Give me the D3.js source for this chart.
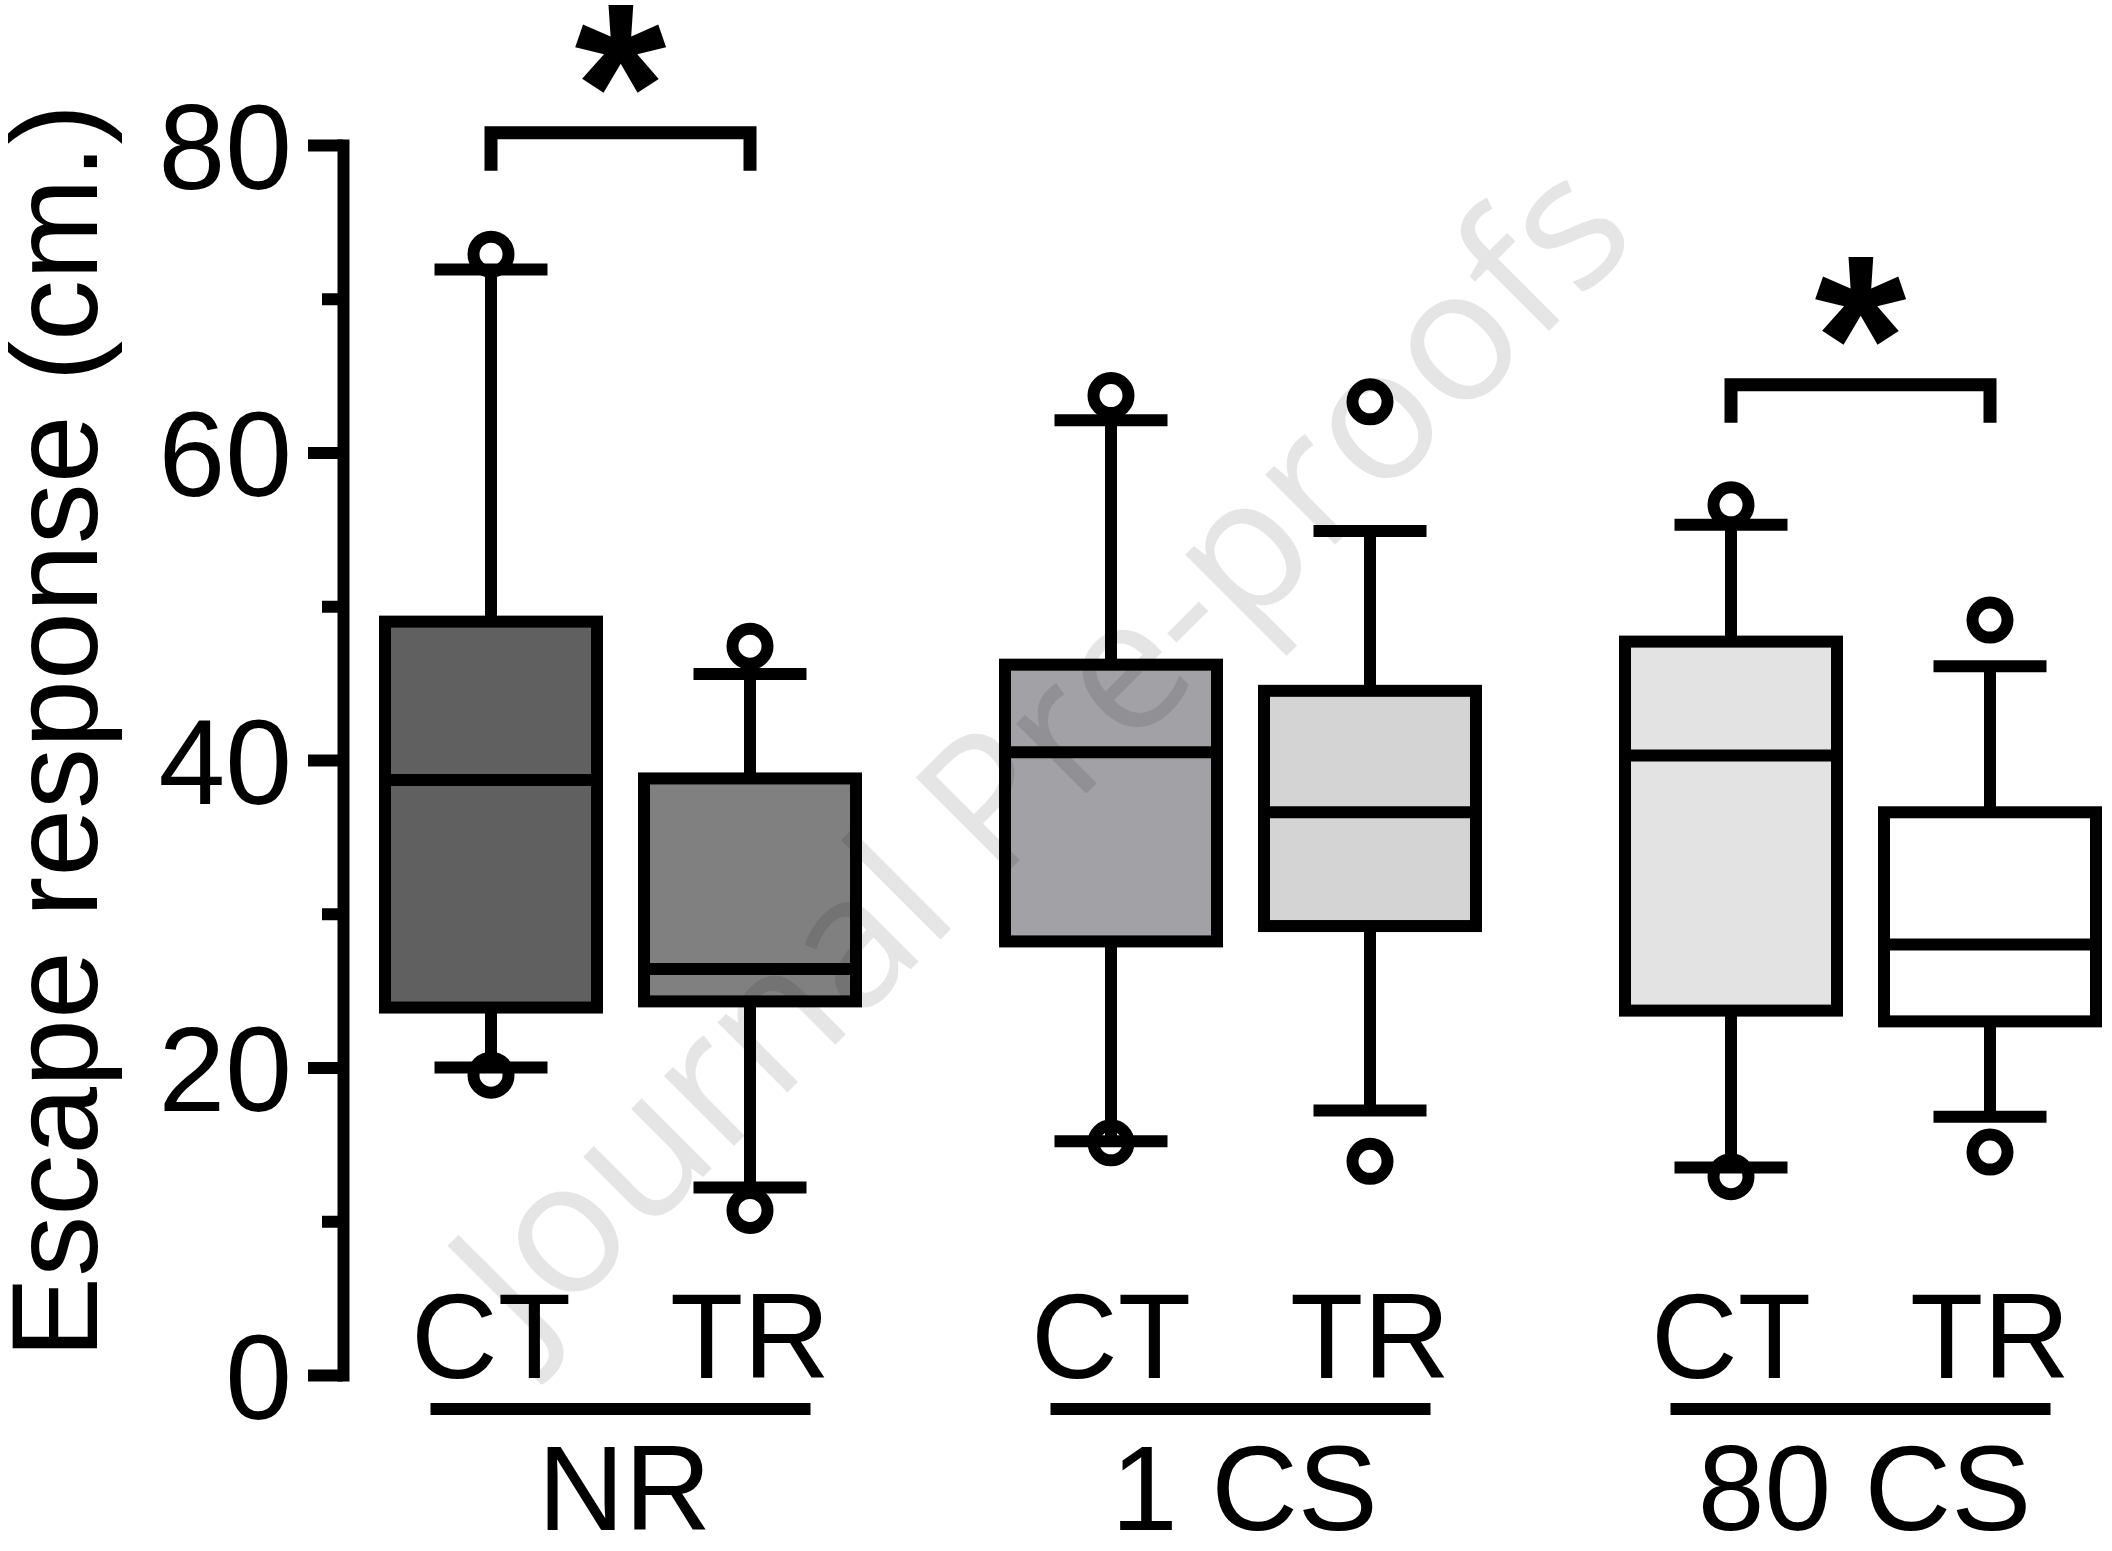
<!DOCTYPE html>
<meta charset="utf-8">
<head>
    <title>Escape response box plot</title>
    <script src="https://d3js.org/d3.v7.min.js"></script>
</head>
<style>
    body {
        margin: 0;
        background-color: #ffffff;
    }
    svg text {
        font-family: "Liberation Sans", Arial, sans-serif;
    }
    .axis path,
    .axis line {
        fill: none;
        stroke: #000;
        stroke-width: 12px;
    }
    .axis path {
        stroke-linecap: square;
    }
    .axis text {
        font-size: 120px;
        fill: #000;
    }
</style>
<body>
<svg width="2112" height="1551"></svg>
<script>
    // groups and conditions, one box per group x condition (CT, TR)
    var groups = ["NR", "1 CS", "80 CS"];
    var conditions = ["CT", "TR"];

    var q1 =          [23.9, 24.3, 28.2, 29.2, 23.7, 23.0];
    var median =      [38.7, 26.4, 40.5, 36.6, 40.3, 28.0];
    var q3 =          [49.0, 38.8, 46.2, 44.5, 47.7, 36.6];
    var whiskerLow =  [20.0, 12.2, 15.2, 17.2, 13.5, 16.8];
    var whiskerHigh = [71.9, 45.6, 62.1, 54.9, 55.3, 46.1];
    var outliers =    [[72.9, 19.5], [47.4, 10.7], [63.7, 15.1], [63.3, 13.9], [56.6, 12.9], [49.1, 14.5]];
    var fills = ["#606060", "#808080", "#a2a1a6", "#d4d4d4", "#e3e3e3", "#ffffff"];

    var majorTicks = [0, 20, 40, 60, 80];
    var minorTicks = [10, 30, 50, 70];

    // significance brackets: group and bracket level (data units)
    var sigGroups = ["NR", "80 CS"];
    var sigLevels = [80.8, 64.4];

    var yTitle = "Escape response (cm.)";

    var svg = d3.select("svg");

    var y = d3.scaleLinear().domain([0, 80]).range([1375, 145]);
    var xGroup = d3.scalePoint().domain(groups).range([620.5, 1860.5]);
    var xCond = d3.scalePoint().domain(conditions).range([-129.5, 129.5]);

    var boxW = 212, capW = 113;

    var data = [];
    groups.forEach(function(g, gi) {
        conditions.forEach(function(c, ci) {
            var i = gi * 2 + ci;
            data.push({
                group: g, cond: c,
                cx: xGroup(g) + xCond(c),
                q1: q1[i], med: median[i], q3: q3[i],
                lo: whiskerLow[i], hi: whiskerHigh[i],
                out: outliers[i], fill: fills[i]
            });
        });
    });

    // y axis
    var axisX = 343;
    svg.append("g")
        .attr("class", "axis")
        .attr("transform", "translate(" + axisX + ",0)")
        .call(d3.axisLeft(y).tickValues(minorTicks).tickSize(21).tickSizeOuter(0).tickFormat(""))
        .call(function(g) { g.select(".domain").remove(); });

    var yAxis = svg.append("g")
        .attr("class", "axis")
        .attr("transform", "translate(" + axisX + ",0)")
        .call(d3.axisLeft(y).tickValues(majorTicks).tickSize(35).tickSizeOuter(0).tickPadding(16));
    yAxis.attr("font-family", null).attr("font-size", null);
    yAxis.selectAll("text").attr("dy", "0.36em");

    svg.append("text")
        .attr("transform", "translate(97," + 731 + ") rotate(-90)")
        .attr("text-anchor", "middle")
        .style("font-size", "122px")
        .text(yTitle);

    var box = svg.append("g").selectAll("g")
        .data(data)
        .enter().append("g");

    // whiskers
    box.append("line")
        .attr("x1", function(d) { return d.cx; })
        .attr("x2", function(d) { return d.cx; })
        .attr("y1", function(d) { return y(d.hi); })
        .attr("y2", function(d) { return y(d.q3); })
        .attr("stroke", "#000").attr("stroke-width", 12);
    box.append("line")
        .attr("x1", function(d) { return d.cx; })
        .attr("x2", function(d) { return d.cx; })
        .attr("y1", function(d) { return y(d.q1); })
        .attr("y2", function(d) { return y(d.lo); })
        .attr("stroke", "#000").attr("stroke-width", 12);
    ["hi", "lo"].forEach(function(k) {
        box.append("line")
            .attr("x1", function(d) { return d.cx - capW / 2; })
            .attr("x2", function(d) { return d.cx + capW / 2; })
            .attr("y1", function(d) { return y(d[k]); })
            .attr("y2", function(d) { return y(d[k]); })
            .attr("stroke", "#000").attr("stroke-width", 12);
    });

    box.append("rect")
        .attr("x", function(d) { return d.cx - boxW / 2; })
        .attr("width", boxW)
        .attr("y", function(d) { return y(d.q3); })
        .attr("height", function(d) { return y(d.q1) - y(d.q3); })
        .attr("fill", function(d) { return d.fill; })
        .attr("stroke", "#000").attr("stroke-width", 12);

    box.append("line")
        .attr("x1", function(d) { return d.cx - boxW / 2; })
        .attr("x2", function(d) { return d.cx + boxW / 2; })
        .attr("y1", function(d) { return y(d.med); })
        .attr("y2", function(d) { return y(d.med); })
        .attr("stroke", "#000").attr("stroke-width", 12);

    box.selectAll("circle")
        .data(function(d) { return d.out.map(function(v) { return {cx: d.cx, v: v}; }); })
        .enter().append("circle")
        .attr("cx", function(d) { return d.cx; })
        .attr("cy", function(d) { return y(d.v); })
        .attr("r", 17.5)
        .attr("fill", "none")
        .attr("stroke", "#000").attr("stroke-width", 12);

    // condition labels
    svg.append("g").selectAll("text")
        .data(data)
        .enter().append("text")
        .attr("x", function(d) { return d.cx; })
        .attr("y", 1378)
        .attr("text-anchor", "middle")
        .style("font-size", "120px")
        .text(function(d) { return d.cond; });

    // group underline and label
    var grp = svg.append("g").selectAll("g")
        .data(groups)
        .enter().append("g");
    grp.append("line")
        .attr("x1", function(d) { return xGroup(d) - 190; })
        .attr("x2", function(d) { return xGroup(d) + 190; })
        .attr("y1", 1409).attr("y2", 1409)
        .attr("stroke", "#000").attr("stroke-width", 12);
    grp.append("text")
        .attr("x", function(d) { return xGroup(d) + 4; })
        .attr("y", 1530)
        .attr("text-anchor", "middle")
        .style("font-size", "120px")
        .text(function(d) { return d; });

    // significance brackets
    sigGroups.forEach(function(g, i) {
        var xa = xGroup(g) + xCond("CT"), xb = xGroup(g) + xCond("TR");
        var yt = y(sigLevels[i]);
        svg.append("path")
            .attr("d", "M" + xa + "," + (yt + 38) + "V" + yt + "H" + xb + "V" + (yt + 38))
            .attr("fill", "none")
            .attr("stroke", "#000").attr("stroke-width", 13);
        svg.append("text")
            .attr("x", (xa + xb) / 2)
            .attr("y", yt + 34)
            .attr("text-anchor", "middle")
            .style("font-size", "236px")
            .style("font-weight", "bold")
            .text("*");
    });

    // watermark
    svg.append("text")
        .attr("transform", "translate(1085,795) rotate(-45)")
        .attr("text-anchor", "middle")
        .style("font-family", "'Open Sans', sans-serif")
        .style("font-size", "185px")
        .attr("fill", "#000")
        .attr("fill-opacity", 0.1)
        .text("Journal Pre-proofs");
</script>
</body>
